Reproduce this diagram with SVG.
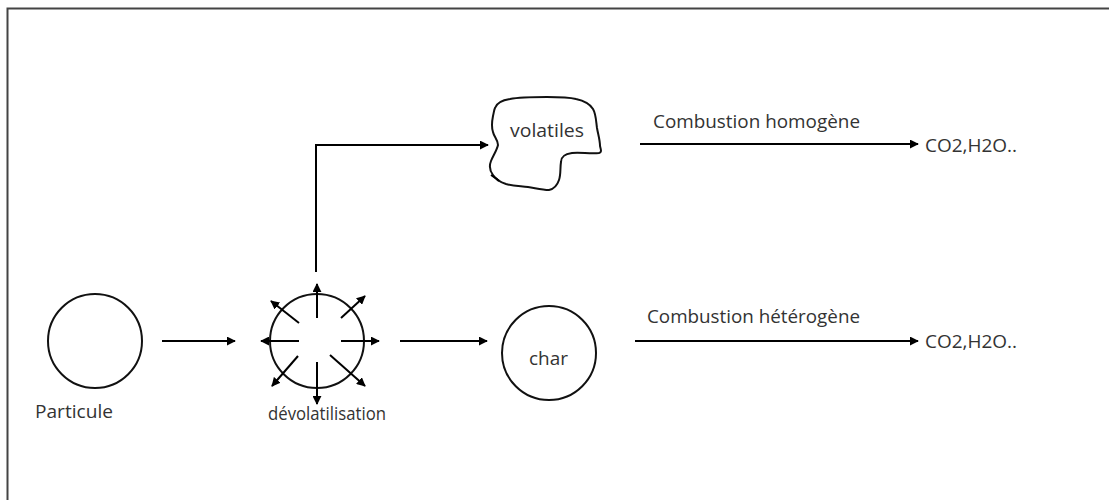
<svg xmlns="http://www.w3.org/2000/svg" width="1109" height="500" viewBox="0 0 1109 500">
<style>
.ln{stroke:#000;stroke-width:2;fill:none}
.nd{stroke:#111;stroke-width:2;fill:#fff}
.t{font-family:"Open Sans","Noto Sans",sans-serif;font-size:18px;fill:#333}
</style>
<defs>
<marker id="ah" viewBox="0 0 10 10" refX="9" refY="5" markerWidth="4.5" markerHeight="4.5" markerUnits="strokeWidth" orient="auto">
<path d="M0,0 L10,5 L0,10 z" fill="#000"/>
</marker>
</defs>
<rect x="0" y="0" width="1109" height="500" fill="#fff"/>
<path d="M7.5,500 V8.5 H1109" stroke="#444" stroke-width="2" fill="none"/>
<g id="particule">
<circle class="nd" cx="95" cy="341" r="47"/>
<text class="t" x="35" y="418" textLength="78" lengthAdjust="spacingAndGlyphs">Particule</text>
</g>
<g id="devolatilisation">
<circle class="nd" cx="317" cy="341" r="47"/>
<g class="ln" marker-end="url(#ah)">
<line x1="317" y1="318" x2="317" y2="284"/>
<line x1="317" y1="362" x2="317" y2="404"/>
<line x1="299" y1="341" x2="261" y2="341"/>
<line x1="341" y1="341" x2="379" y2="341"/>
<line x1="299" y1="323" x2="271" y2="301"/>
<line x1="341" y1="318" x2="365" y2="296"/>
<line x1="298" y1="356" x2="272" y2="386"/>
<line x1="330" y1="355" x2="365" y2="386"/>
</g>
<text class="t" x="268" y="420" textLength="118" lengthAdjust="spacingAndGlyphs">dévolatilisation</text>
</g>
<g id="volatiles">
<path class="nd" d="M495,108 C497,102 503,100 510,99 C520,97 535,97 547,97 C558,97 568,97 576,99 C585,101 590,104 593,109 C596,114 596,121 597,128 C598,134 600,140 600,146 C601,150 602,152 599,153 C590,154 580,152 572,153 C565,154 561,156 561,162 C560,168 561,174 559,180 C557,186 554,189 549,190 C542,190 535,188 528,187 C520,186 513,186 506,184 C500,182 496,180 493,175 C490,171 489,166 491,161 C493,156 497,150 498,145 C498,140 494,137 493,132 C491,126 492,121 493,116 C494,112 494,110 495,108 Z"/>
<path class="ln" d="M491,175 C494,177 496,178 499,181" stroke-width="1.5"/>
<text class="t" x="510" y="137" textLength="74" lengthAdjust="spacingAndGlyphs">volatiles</text>
</g>
<g id="char">
<circle class="nd" cx="549" cy="353" r="47"/>
<text class="t" x="529" y="365" textLength="39" lengthAdjust="spacingAndGlyphs">char</text>
</g>
<g id="prod1">
<text class="t" x="925" y="152" textLength="92" lengthAdjust="spacingAndGlyphs">CO2,H2O..</text>
</g>
<g id="prod2">
<text class="t" x="925" y="348" textLength="92" lengthAdjust="spacingAndGlyphs">CO2,H2O..</text>
</g>
<g id="connectors">
<g class="ln" marker-end="url(#ah)">
<line x1="162" y1="341" x2="235" y2="341"/>
<line x1="400" y1="341" x2="487" y2="341"/>
<path d="M316,272 V145 H488"/>
<line x1="640" y1="144" x2="918" y2="144"/>
<line x1="635" y1="341" x2="918" y2="341"/>
</g>
<text class="t" x="653" y="128" textLength="207" lengthAdjust="spacingAndGlyphs">Combustion homogène</text>
<text class="t" x="647" y="323" textLength="213" lengthAdjust="spacingAndGlyphs">Combustion hétérogène</text>
</g>
</svg>
